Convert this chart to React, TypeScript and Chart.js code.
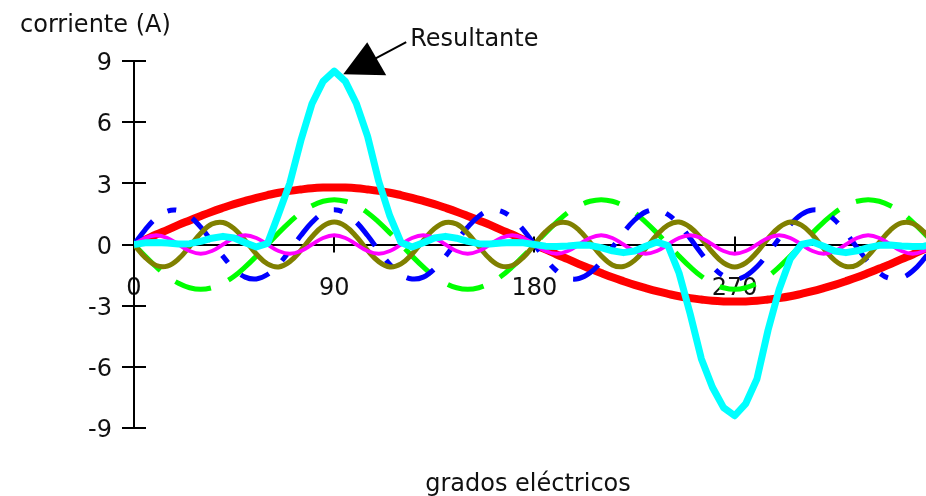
import React, { useEffect, useRef } from 'react';
import { Chart, registerables } from 'chart.js';

Chart.register(...registerables);

// grados eléctricos (x values, every 5°)
const DEGREES = [0, 5, 10, 15, 20, 25, 30, 35, 40, 45, 50, 55, 60, 65, 70, 75, 80, 85, 90, 95, 100, 105, 110, 115, 120, 125, 130, 135, 140, 145, 150, 155, 160, 165, 170, 175, 180, 185, 190, 195, 200, 205, 210, 215, 220, 225, 230, 235, 240, 245, 250, 255, 260, 265, 270, 275, 280, 285, 290, 295, 300, 305, 310, 315, 320, 325, 330, 335, 340, 345, 350, 355, 360];

// Resultante (cyan)
const RESULTANTE = [0, 0.08, 0.1, 0.07, 0.02, 0.04, 0.15, 0.31, 0.4, 0.32, 0.09, -0.12, 0.05, 1.5, 3.0, 5.1, 6.9, 8.0, 8.5, 8.0, 6.9, 5.3, 3.1, 1.4, 0.1, -0.12, 0.09, 0.32, 0.4, 0.31, 0.15, 0.04, 0.02, 0.07, 0.1, 0.08, 0, -0.08, -0.1, -0.07, -0.02, -0.04, -0.15, -0.31, -0.4, -0.32, -0.09, 0.12, -0.05, -1.4, -3.4, -5.6, -7.0, -8.0, -8.4, -7.8, -6.6, -4.2, -2.2, -0.7, 0.0, 0.12, -0.09, -0.32, -0.4, -0.31, -0.15, -0.04, -0.02, -0.07, -0.1, -0.08, 0];

// Fundamental (red)
const FUNDAMENTAL = [0, 0.24, 0.49, 0.72, 0.96, 1.18, 1.4, 1.61, 1.8, 1.98, 2.14, 2.29, 2.42, 2.54, 2.63, 2.7, 2.76, 2.79, 2.8, 2.79, 2.76, 2.7, 2.63, 2.54, 2.42, 2.29, 2.14, 1.98, 1.8, 1.61, 1.4, 1.18, 0.96, 0.72, 0.49, 0.24, 0, -0.24, -0.49, -0.72, -0.96, -1.18, -1.4, -1.61, -1.8, -1.98, -2.14, -2.29, -2.42, -2.54, -2.63, -2.7, -2.76, -2.79, -2.8, -2.79, -2.76, -2.7, -2.63, -2.54, -2.42, -2.29, -2.14, -1.98, -1.8, -1.61, -1.4, -1.18, -0.96, -0.72, -0.49, -0.24, 0];

// 3rd harmonic (green, dashed)
const HARM3 = [0, -0.57, -1.1, -1.56, -1.9, -2.12, -2.2, -2.12, -1.9, -1.56, -1.1, -0.57, 0, 0.57, 1.1, 1.56, 1.9, 2.12, 2.2, 2.12, 1.9, 1.56, 1.1, 0.57, 0, -0.57, -1.1, -1.56, -1.9, -2.12, -2.2, -2.12, -1.9, -1.56, -1.1, -0.57, 0, 0.57, 1.1, 1.56, 1.9, 2.12, 2.2, 2.12, 1.9, 1.56, 1.1, 0.57, 0, -0.57, -1.1, -1.56, -1.9, -2.12, -2.2, -2.12, -1.9, -1.56, -1.1, -0.57, 0, 0.57, 1.1, 1.56, 1.9, 2.12, 2.2, 2.12, 1.9, 1.56, 1.1, 0.57, 0];

// 5th harmonic (blue, dash-dot)
const HARM5 = [0, 0.72, 1.3, 1.64, 1.67, 1.39, 0.85, 0.15, -0.58, -1.2, -1.6, -1.69, -1.47, -0.98, -0.3, 0.44, 1.09, 1.54, 1.7, 1.54, 1.09, 0.44, -0.3, -0.98, -1.47, -1.69, -1.6, -1.2, -0.58, 0.15, 0.85, 1.39, 1.67, 1.64, 1.3, 0.72, 0, -0.72, -1.3, -1.64, -1.67, -1.39, -0.85, -0.15, 0.58, 1.2, 1.6, 1.69, 1.47, 0.98, 0.3, -0.44, -1.09, -1.54, -1.7, -1.54, -1.09, -0.44, 0.3, 0.98, 1.47, 1.69, 1.6, 1.2, 0.58, -0.15, -0.85, -1.39, -1.67, -1.64, -1.3, -0.72, 0];

// 7th harmonic (olive)
const HARM7 = [0, -0.63, -1.03, -1.06, -0.71, -0.1, 0.55, 1.0, 1.08, 0.78, 0.19, -0.47, -0.95, -1.1, -0.84, -0.29, 0.38, 0.9, 1.1, 0.9, 0.38, -0.29, -0.84, -1.1, -0.95, -0.47, 0.19, 0.78, 1.08, 1.0, 0.55, -0.1, -0.71, -1.06, -1.03, -0.63, 0, 0.63, 1.03, 1.06, 0.71, 0.1, -0.55, -1.0, -1.08, -0.78, -0.19, 0.47, 0.95, 1.1, 0.84, 0.29, -0.38, -0.9, -1.1, -0.9, -0.38, 0.29, 0.84, 1.1, 0.95, 0.47, -0.19, -0.78, -1.08, -1.0, -0.55, 0.1, 0.71, 1.06, 1.03, 0.63, 0];

// 9th harmonic (magenta)
const HARM9 = [0, 0.32, 0.45, 0.32, 0, -0.32, -0.45, -0.32, 0, 0.32, 0.45, 0.32, 0, -0.32, -0.45, -0.32, 0, 0.32, 0.45, 0.32, 0, -0.32, -0.45, -0.32, 0, 0.32, 0.45, 0.32, 0, -0.32, -0.45, -0.32, 0, 0.32, 0.45, 0.32, 0, -0.32, -0.45, -0.32, 0, 0.32, 0.45, 0.32, 0, -0.32, -0.45, -0.32, 0, 0.32, 0.45, 0.32, 0, -0.32, -0.45, -0.32, 0, 0.32, 0.45, 0.32, 0, -0.32, -0.45, -0.32, 0, 0.32, 0.45, 0.32, 0, -0.32, -0.45, -0.32, 0];

const X_TICKS = [0, 90, 180, 270];
const Y_TICKS = [-9, -6, -3, 0, 3, 6, 9];
const Y_TITLE = 'corriente (A)';
const X_TITLE = 'grados eléctricos';
const ANNOTATION = 'Resultante';

const FONT_FAMILY = '"DejaVu Sans", sans-serif';
const FONT_SIZE = 24;
const TEXT_COLOR = '#111';

export default function App() {
  const ref = useRef<HTMLCanvasElement>(null);

  useEffect(() => {
    const canvas = ref.current;
    if (!canvas) return;
    const pts = (ys: number[]) => ys.map((y, i) => ({ x: DEGREES[i], y }));

    const decor = {
      id: 'decor',
      beforeDatasetsDraw(chart: any) {
        const { ctx, scales } = chart;
        const xs = scales.x;
        const ys = scales.y;
        const x0 = xs.getPixelForValue(0);
        const y0 = ys.getPixelForValue(0);
        ctx.save();
        ctx.strokeStyle = '#000';
        ctx.lineWidth = 2;
        ctx.beginPath();
        Y_TICKS.forEach((v) => {
          const p = Math.round(ys.getPixelForValue(v));
          ctx.moveTo(x0 - 12, p);
          ctx.lineTo(x0 + 12, p);
        });
        X_TICKS.filter((v) => v !== 0).forEach((v) => {
          const p = Math.round(xs.getPixelForValue(v));
          ctx.moveTo(p, y0 - 8);
          ctx.lineTo(p, y0 + 8);
        });
        ctx.stroke();
        ctx.restore();
      },
      afterDraw(chart: any) {
        const { ctx, scales, chartArea } = chart;
        const xs = scales.x;
        const ys = scales.y;
        ctx.save();
        ctx.fillStyle = TEXT_COLOR;
        ctx.font = `${FONT_SIZE}px ${FONT_FAMILY}`;
        ctx.textBaseline = 'alphabetic';
        ctx.textAlign = 'left';
        ctx.fillText(Y_TITLE, 20, 32);
        ctx.textAlign = 'center';
        ctx.fillText(X_TITLE, (chartArea.left + chartArea.right) / 2 - 2, 491);
        // annotation pointing to the resultant peak
        const peakIdx = RESULTANTE.indexOf(Math.max(...RESULTANTE));
        const px = xs.getPixelForValue(DEGREES[peakIdx]);
        const py = ys.getPixelForValue(RESULTANTE[peakIdx]);
        ctx.fillStyle = '#000';
        ctx.beginPath();
        ctx.moveTo(px + 9, py + 3);
        ctx.lineTo(px + 33, py - 29);
        ctx.lineTo(px + 52, py + 4);
        ctx.closePath();
        ctx.fill();
        ctx.strokeStyle = '#000';
        ctx.lineWidth = 2;
        ctx.beginPath();
        ctx.moveTo(px + 40, py - 12);
        ctx.lineTo(px + 72, py - 29);
        ctx.stroke();
        ctx.fillStyle = TEXT_COLOR;
        ctx.textAlign = 'left';
        ctx.fillText(ANNOTATION, px + 76, py - 25);
        ctx.restore();
      },
    };

    const tickFont = { family: FONT_FAMILY, size: FONT_SIZE };

    const chart = new Chart(canvas, {
      type: 'line',
      data: {
        datasets: [
          { label: 'Resultante', data: pts(RESULTANTE), borderColor: '#00ffff', borderWidth: 7, tension: 0 },
          { label: '9ª armónica', data: pts(HARM9), borderColor: '#ff00ff', borderWidth: 4, tension: 0.4 },
          { label: '7ª armónica', data: pts(HARM7), borderColor: '#808000', borderWidth: 5, tension: 0.4 },
          { label: '5ª armónica', data: pts(HARM5), borderColor: '#0000ff', borderWidth: 5, tension: 0.4, borderDash: [30, 18, 9, 18] },
          { label: '3ª armónica', data: pts(HARM3), borderColor: '#00ff00', borderWidth: 5, tension: 0.4, borderDash: [37, 19] },
          { label: 'Fundamental', data: pts(FUNDAMENTAL), borderColor: '#ff0000', borderWidth: 8, tension: 0.4 },
        ],
      },
      options: {
        animation: false,
        responsive: false,
        devicePixelRatio: 1,
        events: [],
        layout: { padding: { left: 0, top: 61, right: 0, bottom: 68 } },
        elements: {
          point: { radius: 0 },
          line: { borderCapStyle: 'butt', borderJoinStyle: 'round', fill: false },
        },
        plugins: {
          legend: { display: false },
          tooltip: { enabled: false },
          title: { display: false },
        },
        scales: {
          x: {
            type: 'linear',
            min: 0,
            max: 356,
            position: { y: 0 },
            grid: { display: false, drawTicks: false },
            border: { display: true, color: '#000', width: 2 },
            afterBuildTicks: (scale: any) => {
              scale.ticks = X_TICKS.map((v) => ({ value: v }));
            },
            ticks: {
              stepSize: 90,
              includeBounds: false,
              padding: 30,
              color: TEXT_COLOR,
              font: tickFont,
              maxRotation: 0,
              autoSkip: false,
            },
          },
          y: {
            type: 'linear',
            min: -9,
            max: 9,
            position: 'left',
            afterFit: (scale: any) => {
              scale.width = 134;
            },
            grid: { display: false, drawTicks: false },
            border: { display: true, color: '#000', width: 2 },
            afterBuildTicks: (scale: any) => {
              scale.ticks = Y_TICKS.map((v) => ({ value: v }));
            },
            ticks: {
              stepSize: 3,
              padding: 22,
              labelOffset: 3,
              color: TEXT_COLOR,
              font: tickFont,
              autoSkip: false,
            },
          },
        },
      },
      plugins: [decor],
    } as any);

    return () => {
      chart.destroy();
    };
  }, []);

  return (
    <div style={{ position: 'absolute', left: 0, top: 0, width: 926, height: 496, background: '#fff' }}>
      <canvas ref={ref} width={926} height={496} style={{ display: 'block', width: 926, height: 496 }} />
    </div>
  );
}
